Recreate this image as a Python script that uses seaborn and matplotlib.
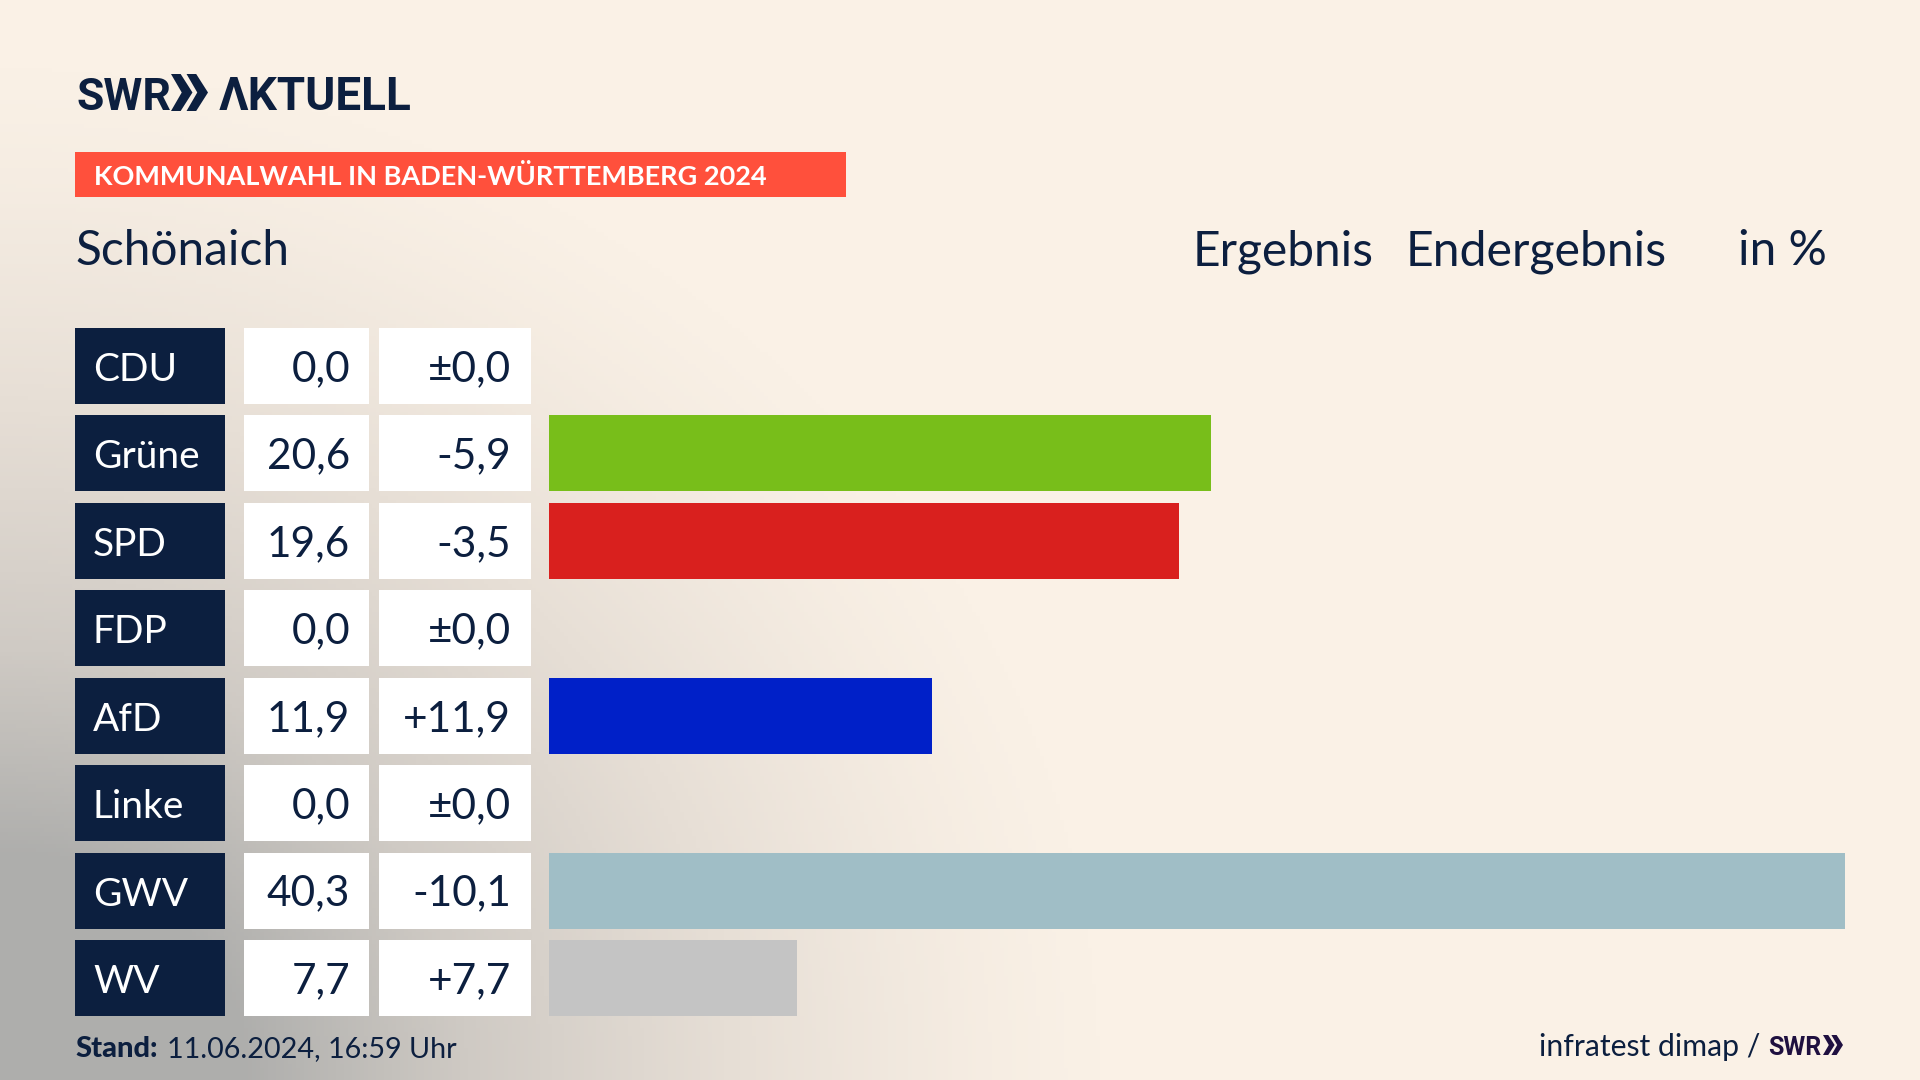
import numpy as np
import pandas as pd
import matplotlib.pyplot as plt
from matplotlib.colors import LinearSegmentedColormap
from matplotlib.patches import Rectangle, Polygon
import seaborn as sns

# Werte aus der Grafik
parties = ["CDU", "Grüne", "SPD", "FDP", "AfD", "Linke", "GWV", "WV"]
results = [0.0, 20.6, 19.6, 0.0, 11.9, 0.0, 40.3, 7.7]
changes = ["±0,0", "-5,9", "-3,5", "±0,0", "+11,9", "±0,0", "-10,1", "+7,7"]
colors = ["#000000", "#78BE1A", "#D9201E", "#FFD500", "#0020C8", "#BE3075", "#A0BEC6", "#C4C4C4"]

NAVY = "#0C1F3F"
W, H = 1920, 1080
ROW_TOP, ROW_H, ROW_STEP = 328, 76, 87.43
LOGO = ["Roboto", "DejaVu Sans"]

sns.set_theme(style="white")
plt.rcParams["font.family"] = ["Lato", "DejaVu Sans"]

df = pd.DataFrame({"party": parties, "result": results})

fig = plt.figure(figsize=(19.2, 10.8), dpi=100, facecolor="#FAF1E6")

# Hintergrund + alles was kein Balken ist, in Pixelkoordinaten
bg = fig.add_axes([0, 0, 1, 1])
bg.set_xlim(0, W)
bg.set_ylim(H, 0)
bg.axis("off")

xx, yy = np.meshgrid(np.linspace(0, 1, 480), np.linspace(0, 1, 270))
dist = np.sqrt((xx / 0.58) ** 2 + ((1 - yy) / 0.95) ** 2)
shade = np.clip(1 - dist, 0, 1) ** 1.35
cmap = LinearSegmentedColormap.from_list("bg", ["#FAF1E6", "#E6DED5", "#CFCAC4", "#AEAEAC"])
bg.imshow(shade, extent=(0, W, H, 0), cmap=cmap, vmin=0, vmax=0.72, aspect="auto", zorder=0)


def chevrons(x, y, w, h, color):
    # die zwei Pfeile vom SWR Logo
    cw = w * 0.58
    for off in (0, w - cw):
        pts = [(x + off, y), (x + off + cw * 0.45, y), (x + off + cw, y + h / 2),
               (x + off + cw * 0.45, y + h), (x + off, y + h), (x + off + cw * 0.5, y + h / 2)]
        bg.add_patch(Polygon(pts, closed=True, color=color, lw=0, zorder=3))


# Kopf
bg.text(76, 110, "SWR", fontsize=32, fontweight="bold", family=LOGO, color=NAVY, va="baseline")
chevrons(171, 74, 37, 37, NAVY)
bg.text(219, 110, "ΛKTUELL", fontsize=33, fontweight="bold", family=LOGO, color=NAVY, va="baseline")

bg.add_patch(Rectangle((75, 152), 771, 45, color="#FF503C", lw=0, zorder=2))
bg.text(94, 185, "KOMMUNALWAHL IN BADEN-WÜRTTEMBERG 2024", fontsize=19.5, fontweight="bold",
        color="white", va="baseline", zorder=3)

bg.text(75, 265, "Schönaich", fontsize=34.5, color=NAVY, va="baseline")
bg.text(1193, 265, "Ergebnis", fontsize=34.5, color=NAVY, va="baseline")
bg.text(1406, 265, "Endergebnis", fontsize=34.7, color=NAVY, va="baseline")
bg.text(1738, 265, "in %", fontsize=34.5, color=NAVY, va="baseline")

# Tabelle links
for i, (party, res, chg) in enumerate(zip(parties, results, changes)):
    top = ROW_TOP + i * ROW_STEP
    base = top + ROW_H / 2 + 15
    bg.add_patch(Rectangle((75, top), 150, ROW_H, color=NAVY, lw=0, zorder=2))
    bg.add_patch(Rectangle((244, top), 125, ROW_H, color="white", lw=0, zorder=2))
    bg.add_patch(Rectangle((379, top), 152, ROW_H, color="white", lw=0, zorder=2))
    bg.text(93, base, party, fontsize=28, color="white", va="baseline", zorder=3)
    bg.text(350, base, f"{res:.1f}".replace(".", ","), fontsize=30.5, color=NAVY,
            ha="right", va="baseline", zorder=3)
    bg.text(511, base, chg, fontsize=30.5, color=NAVY, ha="right", va="baseline", zorder=3)

# Fusszeile
bg.text(75, 1057, "Stand:", fontsize=21, fontweight="black", color=NAVY, va="baseline")
bg.text(167, 1057, "11.06.2024, 16:59 Uhr", fontsize=20.7, color=NAVY, va="baseline")
bg.text(1760, 1056, "infratest dimap /", fontsize=21.7, color=NAVY, ha="right", va="baseline")
bg.text(1768, 1055, "SWR", fontsize=18, fontweight="bold", family=LOGO, color="#1F1040", va="baseline")
chevrons(1823, 1035, 20, 20, "#1F1040")

# Balken
ax_top = ROW_TOP + ROW_H / 2 - ROW_STEP / 2
ax_h = ROW_STEP * len(parties)
ax = fig.add_axes([549 / W, 1 - (ax_top + ax_h) / H, (1845 - 549) / W, ax_h / H])
ax.patch.set_alpha(0)
sns.barplot(data=df, x="result", y="party", hue="party", palette=colors, legend=False,
            width=ROW_H / ROW_STEP, saturation=1, linewidth=0, ax=ax)
ax.set_xlim(0, max(results))
ax.axis("off")

fig.savefig("out.png", dpi=100)
